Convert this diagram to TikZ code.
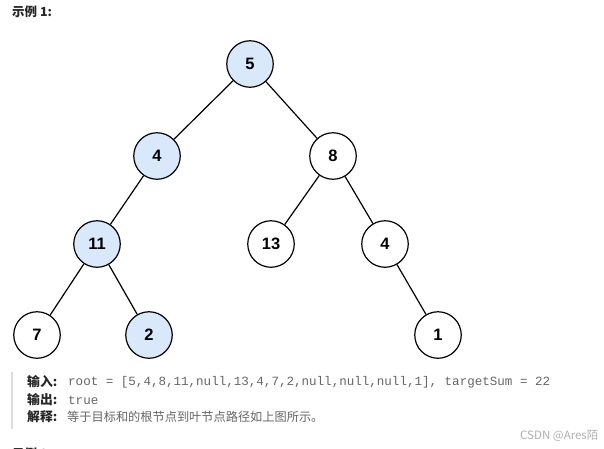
\documentclass[tikz,border=0pt]{standalone}
\usepackage{fontspec}
\setmainfont{Liberation Sans}
\setmonofont{Liberation Mono}
\newfontfamily\cjk{Noto Sans CJK SC}
\usetikzlibrary{calc}

\definecolor{pathfill}{HTML}{DAE8FC}
\definecolor{labelgray}{HTML}{262626}
\definecolor{codegray}{HTML}{666666}
\definecolor{markgray}{HTML}{B0B0B0}
\definecolor{bargray}{HTML}{DDDDDD}

\tikzset{
  treenode/.style={circle, draw=black, line width=1.2pt, fill=white,
    minimum size=46.5pt, inner sep=0pt, font=\fontsize{16.5}{18}\selectfont\bfseries},
  pathnode/.style={treenode, fill=pathfill},
  edge/.style={line width=1.2pt},
  infotext/.style={anchor=west, inner sep=0pt}
}

\begin{document}
\begin{tikzpicture}[x=1pt, y=-1pt]
    \useasboundingbox (0,0) rectangle (604,448);

    % Heading
    \node[infotext, text=labelgray] (title) at (12,12) {\cjk\bfseries\fontsize{12.5}{14}\selectfont 示例 1:};

    % Tree nodes
    \node[pathnode] (n5)  at (250,64)  {5};
    \node[pathnode] (n4)  at (157,156) {4};
    \node[treenode] (n8)  at (333,156) {8};
    \node[pathnode] (n11) at (97,244)  {11};
    \node[treenode] (n13) at (271,244) {13};
    \node[treenode] (n4b) at (385,244) {4};
    \node[treenode] (n7)  at (37,335)  {7};
    \node[pathnode] (n2)  at (149,335) {2};
    \node[treenode] (n1)  at (438,335) {1};

    % Edges
    \draw[edge] (n5) -- (n4);
    \draw[edge] (n5) -- (n8);
    \draw[edge] (n4) -- (n11);
    \draw[edge] (n8) -- (n13);
    \draw[edge] (n8) -- (n4b);
    \draw[edge] (n11) -- (n7);
    \draw[edge] (n11) -- (n2);
    \draw[edge] (n4b) -- (n1);

    % Quote bar
    \coordinate (bartop) at (12,372);
    \coordinate (barbot) at (12,429);
    \draw[bargray, line width=1.2pt] (bartop) -- (barbot);

    % Input / output / explanation
    \node[infotext, text=labelgray] (inlabel) at (27,382) {\cjk\bfseries\fontsize{12.8}{14}\selectfont 输入:};
    \node[infotext, text=codegray] (incode) at (68,382) {\ttfamily\fontsize{12.55}{14}\selectfont root = [5,4,8,11,null,13,4,7,2,null,null,null,1], targetSum = 22};
    \node[infotext, text=labelgray] (outlabel) at (27,400) {\cjk\bfseries\fontsize{12.8}{14}\selectfont 输出:};
    \node[infotext, text=codegray] (outcode) at (68,400) {\ttfamily\fontsize{12.55}{14}\selectfont true};
    \node[infotext, text=labelgray] (explabel) at (27,417) {\cjk\bfseries\fontsize{12.8}{14}\selectfont 解释:};
    \node[infotext, text=codegray] (exptext) at (67,417) {\cjk\fontsize{12.2}{14}\selectfont 等于目标和的根节点到叶节点路径如上图所示。};

    % Watermark
    \node[infotext, text=markgray] (mark) at (520,436) {\cjk\fontsize{11.5}{13}\selectfont CSDN @Ares陌};

    % Next heading, cut off at the bottom
    \node[infotext, text=labelgray] (title2) at (12,454) {\cjk\bfseries\fontsize{12.5}{14}\selectfont 示例 2:};
\end{tikzpicture}
\end{document}
